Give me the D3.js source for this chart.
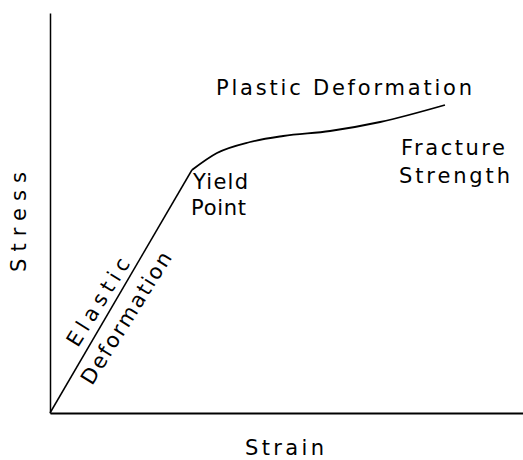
<!DOCTYPE html>
<html>
<head>
<meta charset="utf-8">
<script src="https://cdn.jsdelivr.net/npm/d3@7"></script>
<style>
  body { margin: 0; background: #fff; }
  text { font-family: "DejaVu Sans", sans-serif; fill: #000; }
</style>
</head>
<body>
<svg width="523" height="460"></svg>
<script>
// Data (arbitrary units, strain 0-100, stress 0-100)
const elasticStrain = [0, 30.0];
const elasticStress = [0, 60.75];
const plasticStrain = [30.0, 35.3, 42.3, 49.3, 59.2, 69.8, 83.5];
const plasticStress = [60.75, 65.0, 67.75, 69.25, 70.5, 72.75, 77.0];

const svg = d3.select("svg");

const x = d3.scaleLinear().domain([0, 100]).range([50, 523]);
const y = d3.scaleLinear().domain([0, 100]).range([413, 13]);

// Axes (plain lines, no ticks)
svg.append("g")
  .attr("transform", `translate(0,${y(0)})`)
  .call(d3.axisBottom(x).ticks(0).tickSize(0).tickSizeOuter(0))
  .call(g => g.select(".domain").attr("stroke-width", 1.8));

svg.append("g")
  .attr("transform", `translate(${x(0)},0)`)
  .call(d3.axisLeft(y).ticks(0).tickSize(0).tickSizeOuter(0))
  .call(g => g.select(".domain").attr("stroke-width", 1.5));

// Curve
const elastic = elasticStrain.map((s, i) => ({ s, t: elasticStress[i] }));
const plastic = plasticStrain.map((s, i) => ({ s, t: plasticStress[i] }));

svg.append("path")
  .datum(elastic)
  .attr("fill", "none")
  .attr("stroke", "#000")
  .attr("stroke-width", 1.5)
  .attr("d", d3.line().x(d => x(d.s)).y(d => y(d.t)));

svg.append("path")
  .datum(plastic)
  .attr("fill", "none")
  .attr("stroke", "#000")
  .attr("stroke-width", 1.8)
  .attr("d", d3.line().curve(d3.curveMonotoneX).x(d => x(d.s)).y(d => y(d.t)));

// Labels
function label(txt, px, py, len, opts = {}) {
  const t = svg.append("text")
    .attr("x", px)
    .attr("y", py)
    .attr("font-size", opts.size || 21)
    .attr("textLength", len)
    .attr("lengthAdjust", "spacing")
    .text(txt);
  if (opts.anchor) t.attr("text-anchor", opts.anchor);
  if (opts.rotate !== undefined) {
    t.attr("x", 0).attr("y", 0)
      .attr("dy", "0.35em")
      .attr("transform", `translate(${px},${py}) rotate(${opts.rotate})`);
  }
  return t;
}

label("Plastic Deformation", 216, 95, 256);
label("Yield", 193, 189, 55);
label("Point", 191, 215, 55);
label("Fracture", 401, 155, 104);
label("Strength", 399, 183, 111);
label("Strain", 245, 455, 79);

svg.append("text")
  .attr("transform", "translate(26,222) rotate(-90)")
  .attr("text-anchor", "middle")
  .attr("font-size", 21)
  .attr("textLength", 100)
  .attr("lengthAdjust", "spacing")
  .text("Stress");

label("Elastic", 98, 302, 100, { rotate: -58, anchor: "middle" });
label("Deformation", 126, 318, 152, { rotate: -58, anchor: "middle" });
</script>
</body>
</html>
